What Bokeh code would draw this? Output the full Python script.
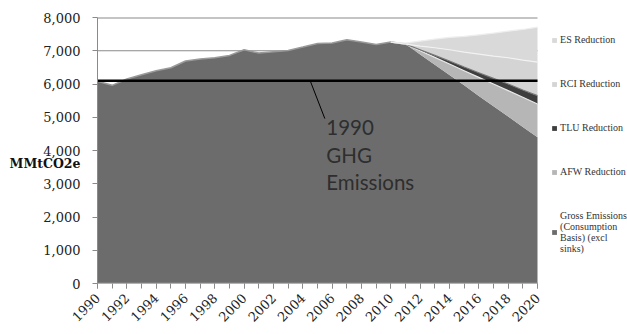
import math
from bokeh.plotting import figure
from bokeh.models import (ColumnDataSource, Legend, LegendItem, Label, FixedTicker,
                          NumeralTickFormatter, Range1d, LinearAxis)
from bokeh.embed import file_html
from bokeh.resources import INLINE

years = list(range(1990, 2021))
gross = [6080, 5960, 6150, 6280, 6400, 6490, 6690, 6750, 6790, 6860, 7030,
         6930, 6970, 7010, 7110, 7220, 7230, 7330, 7260, 7190, 7260,
         7200, 6890, 6580, 6270, 5960, 5640, 5330, 5020, 4710, 4400]
afw = [0] * 21 + [0, 110, 220, 330, 440, 560, 670, 780, 890, 1000]
tlu = [0] * 21 + [0, 30, 60, 90, 110, 140, 170, 200, 220, 250]
rci = [0] * 21 + [0, 110, 230, 340, 450, 560, 670, 790, 900, 1010]
es = [0] * 21 + [30, 150, 260, 370, 470, 580, 690, 800, 920, 1050]

baseline_1990 = 6100
y_ticks = [0, 1000, 2000, 3000, 4000, 5000, 6000, 7000, 8000]
x_ticks = list(range(1990, 2021, 2))
grid_values = [7000, 8000]
y_title = "MMtCO2e"
y_title_at = 3610

series_names = ["Gross Emissions\n(Consumption\nBasis) (excl\nsinks)", "AFW Reduction", "TLU Reduction", "RCI Reduction", "ES Reduction"]
fills = ["#6c6c6c", "#b6b6b6", "#3e3e3e", "#d4d4d4", "#d9d9d9"]
edges = ["#9a9a9a", "#e8e8e8", "#777777", "#f2f2f2", "#eeeeee"]
stack_keys = ["gross", "afw", "tlu", "rci", "es"]

x0, x1 = years[0], years[-1]
# frame extends to the right edge so the legend sits inside it
frame_w_data = (x1 - x0) * 530 / 440

src = ColumnDataSource(dict(year=years, gross=gross, afw=afw, tlu=tlu, rci=rci, es=es))

p = figure(width=627, height=334, output_backend="svg", toolbar_location=None,
           x_range=Range1d(x0, x0 + frame_w_data), y_range=Range1d(0, 8000),
           min_border_left=97, min_border_right=0, min_border_top=17, min_border_bottom=51)
p.outline_line_color = None
p.background_fill_color = "white"

# gridlines only across the data span
for g in grid_values:
    p.line(x=[x0, x1], y=[g, g], line_color="#8a8a8a", line_width=1.2 if g < 8000 else 2.2)

rs = p.varea_stack(stackers=stack_keys, x="year", color=fills, source=src)

# light rims on top of each layer
cum = [0] * len(years)
series = [gross, afw, tlu, rci, es]
for k, s in enumerate(series):
    cum = [a + b for a, b in zip(cum, s)]
    if k == 0:
        p.line(x=years[:22], y=cum[:22], line_color=edges[k], line_width=1.5)
    else:
        p.line(x=years[20:], y=cum[20:], line_color=edges[k], line_width=1.2)

# x axis line across data span
p.line(x=[x0, x1], y=[0, 0], line_color="#8a8a8a", line_width=2)

# 1990 line
p.line(x=[x0, x1], y=[baseline_1990, baseline_1990], line_color="black", line_width=2.5)

# annotation
ann_x0, ann_y0, ann_x1, ann_y1 = 2004.5, baseline_1990, 2005.5, 4960
p.line(x=[ann_x0, ann_x1], y=[ann_y0, ann_y1], line_color="black", line_width=1)
p.add_layout(Label(x=2005.6, y=5060, text="1990\nGHG\nEmissions", text_font="Lato",
                   text_font_size="20.5px", text_color="#2e2e2e", text_baseline="top",
                   text_line_height=1.15))

p.yaxis.ticker = FixedTicker(ticks=y_ticks)
p.yaxis.formatter = NumeralTickFormatter(format="0,0")
p.yaxis.major_label_standoff = 12
p.xaxis.ticker = FixedTicker(ticks=x_ticks, minor_ticks=years)
p.xaxis.major_label_orientation = math.pi / 4
p.xaxis.major_label_standoff = 7

for ax in (p.xaxis[0], p.yaxis[0]):
    ax.axis_line_color = "#8a8a8a"
    ax.major_tick_line_color = "#8a8a8a"
    ax.minor_tick_line_color = "#8a8a8a"
    ax.major_tick_in = 0
    ax.major_tick_out = 5
    ax.minor_tick_in = 0
    ax.minor_tick_out = 5
    ax.major_label_text_font = "DejaVu Serif"
    ax.major_label_text_font_size = "13px"
    ax.major_label_text_color = "#222222"
p.yaxis.minor_tick_line_color = None
p.xaxis.axis_line_color = None

# y title as a second (line-less) left axis whose single label sits beside the ticks
title_axis = LinearAxis(ticker=FixedTicker(ticks=[y_title_at]),
                        major_label_overrides={y_title_at: y_title},
                        axis_line_color=None, major_tick_line_color=None,
                        minor_tick_line_color=None, major_tick_in=0, major_tick_out=0,
                        major_label_standoff=-40,
                        major_label_text_font="DejaVu Serif",
                        major_label_text_font_style="bold",
                        major_label_text_font_size="12.5px",
                        major_label_text_color="#111111")
p.add_layout(title_axis, "left")

p.xgrid.grid_line_color = None
p.ygrid.grid_line_color = None

items = [LegendItem(label=series_names[i], renderers=[rs[i]]) for i in [4, 3, 2, 1, 0]]
leg = Legend(items=items, location="top_right", orientation="vertical",
             label_text_font="Liberation Serif", label_text_font_size="10px",
             label_text_color="#333333", glyph_width=6, glyph_height=6,
             label_height=6, spacing=33, padding=7, margin=0,
             label_standoff=3, border_line_color=None, background_fill_alpha=0,
             label_text_line_height=1.45, title=" ", title_text_font_size="12px",
             title_standoff=3)
p.add_layout(leg, "center")

open("out.html", "w").write(file_html(p, INLINE))
